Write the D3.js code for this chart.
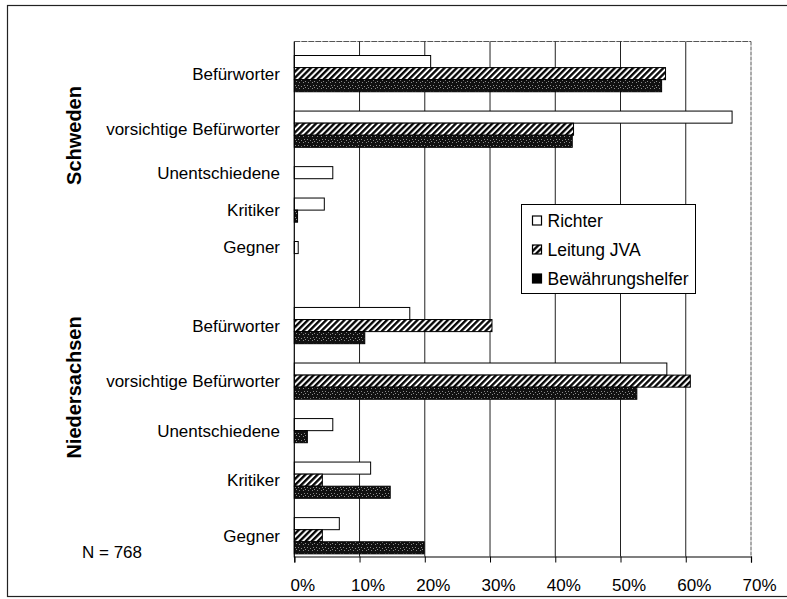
<!DOCTYPE html>
<html>
<head>
<meta charset="utf-8">
<script src="https://cdn.jsdelivr.net/npm/d3@7"></script>
<style>
  body { margin: 0; background: #fff; }
  svg { font-family: "Liberation Sans", Arial, sans-serif; }
</style>
</head>
<body>
<div id="chart"></div>
<script>
// values (percent)
var groups = ["Schweden", "Niedersachsen"];
var categories = ["Befürworter", "vorsichtige Befürworter", "Unentschiedene", "Kritiker", "Gegner"];
var seriesNames = ["Richter", "Leitung JVA", "Bewährungshelfer"];

var schwedenRichter = [20.9, 67.1, 5.9, 4.6, 0.6];
var schwedenLeitung = [56.9, 42.8, 0, 0, 0];
var schwedenBewaehrung = [56.3, 42.6, 0, 0.5, 0];

var niedersachsenRichter = [17.7, 57.1, 5.9, 11.7, 6.9];
var niedersachsenLeitung = [30.3, 60.7, 0, 4.3, 4.3];
var niedersachsenBewaehrung = [10.8, 52.5, 2.0, 14.7, 19.9];

var xTicks = [0, 10, 20, 30, 40, 50, 60, 70];
var noteText = "N = 768";

var groupValues = {
  "Schweden": [schwedenRichter, schwedenLeitung, schwedenBewaehrung],
  "Niedersachsen": [niedersachsenRichter, niedersachsenLeitung, niedersachsenBewaehrung]
};

var svgWidth = 787;
var svgHeight = 599;
var plotLeft = 294.3, plotRight = 751, plotTop = 41.5, plotBottom = 556.5;

// vertical layout in "bar units": only non-zero bars take a slot
var topPad = 1.16, rowGap = 1.6, groupGap = 4.46, bottomPad = 0.22;

var bars = [];
var rows = [];
var groupStarts = {};
var pos = topPad;
groups.forEach(function(g, gi) {
  if (gi > 0) pos += groupGap;
  groupStarts[g] = pos;
  categories.forEach(function(c, ci) {
    if (ci > 0) pos += rowGap;
    var rowStart = pos;
    seriesNames.forEach(function(s, si) {
      var v = groupValues[g][si][ci];
      if (v > 0) {
        bars.push({ group: g, category: c, series: si, value: v, slot: pos });
        pos += 1;
      }
    });
    rows.push({ group: g, category: c, start: rowStart, end: pos });
  });
});
var totalUnits = pos + bottomPad;

var svg = d3.select("#chart").append("svg")
  .attr("width", svgWidth)
  .attr("height", svgHeight);

var defs = svg.append("defs");

// diagonal hatch for Leitung JVA
var hatch = defs.append("pattern")
  .attr("id", "hatch")
  .attr("patternUnits", "userSpaceOnUse")
  .attr("width", 4.3)
  .attr("height", 4.3)
  .attr("patternTransform", "rotate(45)");
hatch.append("rect").attr("width", 4.3).attr("height", 4.3).attr("fill", "#fff");
hatch.append("line")
  .attr("x1", 1.2).attr("y1", 0).attr("x2", 1.2).attr("y2", 4.3)
  .attr("stroke", "#000").attr("stroke-width", 2.3);

// dark speckled fill for Bewährungshelfer
var speck = defs.append("pattern")
  .attr("id", "speck")
  .attr("patternUnits", "userSpaceOnUse")
  .attr("width", 9)
  .attr("height", 6);
speck.append("rect").attr("width", 9).attr("height", 6).attr("fill", "#111");
[[1, 1], [4, 2], [7, 1], [2, 4], [6, 4], [8, 3]].forEach(function(p) {
  speck.append("rect")
    .attr("x", p[0]).attr("y", p[1])
    .attr("width", 1).attr("height", 1)
    .attr("fill", "#8a8a8a");
});

var fills = ["#fff", "url(#hatch)", "url(#speck)"];

// outer frame
svg.append("rect")
  .attr("x", 7.5).attr("y", 5.5)
  .attr("width", 820).attr("height", 591)
  .attr("fill", "none")
  .attr("stroke", "#222")
  .attr("stroke-width", 1.2);

var x = d3.scaleLinear().domain([0, 70]).range([plotLeft, plotRight]);
var y = d3.scaleLinear().domain([0, totalUnits]).range([plotTop, plotBottom]);

// plot area top border
svg.append("line")
  .attr("x1", plotLeft).attr("x2", plotRight)
  .attr("y1", plotTop).attr("y2", plotTop)
  .attr("stroke", "#555").attr("stroke-width", 1)
  .attr("stroke-dasharray", "6,1");

// vertical gridlines
svg.append("g")
  .selectAll("line")
  .data(xTicks.slice(1))
  .enter()
  .append("line")
  .attr("x1", d => x(d)).attr("x2", d => x(d))
  .attr("y1", plotTop).attr("y2", plotBottom)
  .attr("stroke", d => d === 70 ? "#555" : "#222")
  .attr("stroke-width", 1)
  .attr("stroke-dasharray", d => d === 70 ? "4,1" : null);

// bars
svg.append("g")
  .selectAll("rect")
  .data(bars)
  .enter()
  .append("rect")
  .attr("x", x(0))
  .attr("y", d => y(d.slot))
  .attr("width", d => x(d.value) - x(0))
  .attr("height", d => y(d.slot + 1) - y(d.slot))
  .attr("fill", d => fills[d.series])
  .attr("stroke", "#000")
  .attr("stroke-width", 1);

// x axis
var bottomAxis = d3.axisBottom(x)
  .tickValues(xTicks)
  .tickSize(6)
  .tickFormat(d => d + "%");

var xAxis = svg.append("g")
  .attr("transform", `translate(0, ${plotBottom})`)
  .call(bottomAxis);
xAxis.select(".domain").attr("stroke", "#000").attr("stroke-width", 1.2);
xAxis.selectAll(".tick line").attr("stroke", "#000");
xAxis.selectAll(".tick text")
  .attr("font-size", 17)
  .attr("font-family", "Liberation Sans, Arial, sans-serif")
  .attr("fill", "#000")
  .attr("x", 8)
  .attr("y", 22);

// left axis line
svg.append("line")
  .attr("x1", plotLeft).attr("x2", plotLeft)
  .attr("y1", plotTop).attr("y2", plotBottom + 1)
  .attr("stroke", "#000").attr("stroke-width", 1.2);

// category labels
svg.append("g")
  .selectAll("text")
  .data(rows)
  .enter()
  .append("text")
  .attr("x", 280)
  .attr("y", d => (y(d.start) + y(d.end)) / 2)
  .attr("dy", "0.35em")
  .attr("text-anchor", "end")
  .attr("font-size", 17)
  .text(d => d.category);

// group labels
svg.append("g")
  .selectAll("text")
  .data(groups)
  .enter()
  .append("text")
  .attr("transform", d => `translate(81, ${y(groupStarts[d]) + 80}) rotate(-90)`)
  .attr("text-anchor", "middle")
  .attr("font-size", 20)
  .attr("font-weight", "bold")
  .text(d => d);

// note
svg.append("text")
  .attr("x", 82)
  .attr("y", 558)
  .attr("font-size", 17)
  .text(noteText);

// legend
var legend = svg.append("g").attr("transform", "translate(521.5, 204.5)");
legend.append("rect")
  .attr("width", 174).attr("height", 89)
  .attr("fill", "#fff")
  .attr("stroke", "#000")
  .attr("stroke-width", 1);

var legendItems = legend.selectAll("g.item")
  .data(seriesNames)
  .enter()
  .append("g")
  .attr("class", "item")
  .attr("transform", (d, i) => `translate(11, ${16 + i * 29})`);

legendItems.append("rect")
  .attr("x", 0).attr("y", -4.5)
  .attr("width", 9).attr("height", 9)
  .attr("fill", (d, i) => i === 2 ? "#000" : fills[i])
  .attr("stroke", "#000")
  .attr("stroke-width", 1.2);

legendItems.append("text")
  .attr("x", 15)
  .attr("dy", "0.35em")
  .attr("font-size", 17.5)
  .text(d => d);
</script>
</body>
</html>
